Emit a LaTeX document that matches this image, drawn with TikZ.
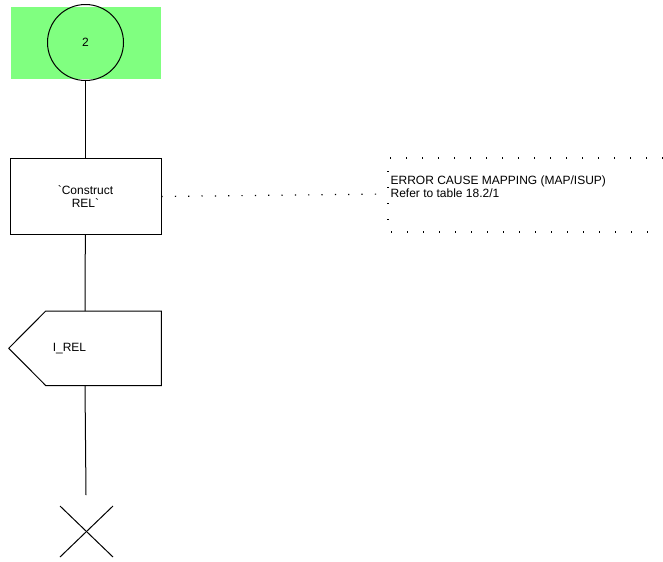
\documentclass[tikz,border=0pt]{standalone}
\usepackage{fontspec}
\setmainfont{Liberation Sans}
\usetikzlibrary{positioning,calc}
\definecolor{startGreen}{RGB}{128,255,128}
\tikzset{
  sdlfont/.style={font=\fontsize{9}{10}\selectfont},
  startbg/.style={fill=startGreen, draw=none, minimum width=112.5pt, minimum height=54pt},
  statecirc/.style={circle, draw, line width=0.75pt, minimum size=57pt, inner sep=0pt, sdlfont},
  taskbox/.style={rectangle, draw, line width=0.75pt, minimum width=113.25pt, minimum height=57pt,
                  align=center, sdlfont},
  outbox/.style={rectangle, minimum width=114pt, minimum height=55.5pt, inner sep=0pt},
  flow/.style={line width=0.75pt, draw=black},
  dotline/.style={line width=0.9pt, dash pattern=on 0.9pt off 9.1pt},
  bracketline/.style={line width=0.9pt, dash pattern=on 0.9pt off 11.1pt},
  commenttext/.style={align=left, inner sep=1pt, sdlfont}
}
\begin{document}
\begin{tikzpicture}[x=0.75pt, y=-0.75pt]
\useasboundingbox (0,0) rectangle (663,561);
% start state
\node[startbg] (bg) at (86,43) {};
\node[statecirc] (st) at (85.5,42.5) {2};
% task
\node[taskbox, below=57.75pt of st] (task) {\textasciigrave Construct\\REL\textasciigrave};
% output signal
\node[outbox, below=57pt of task, xshift=-0.375pt] (irel) {};
\draw[flow] ([xshift=27.75pt]irel.north west) -- (irel.north east) -- (irel.south east)
  -- ([xshift=27.75pt]irel.south west) -- (irel.west) -- cycle;
\node[sdlfont, anchor=west] (irellbl) at ([xshift=29.5pt]irel.west) {I\_REL};
% stop
\coordinate (stopend) at (86,495);
\coordinate (x1) at (60,506);
\coordinate (x2) at (113,557);
\coordinate (x3) at (113,506);
\coordinate (x4) at (60,557);
% comment
\coordinate (ctop) at (388,158);
\coordinate (cbot) at (388,232);
\coordinate (cmid) at (388,194);
\node[commenttext, anchor=west] (cmt) at (389,187) {ERROR CAUSE MAPPING (MAP/ISUP)\\Refer to table 18.2/1};
\draw[flow] (st) -- (task);
\draw[flow] (task) -- (irel.north);
\draw[flow] (irel.south) -- (stopend);
\draw[flow] (x1) -- (x2);
\draw[flow] (x3) -- (x4);
\draw[dotline] (task.east) -- (cmid);
\draw[bracketline] (663,158) -- (ctop) -- (cbot) -- (663,232);
\end{tikzpicture}
\end{document}
